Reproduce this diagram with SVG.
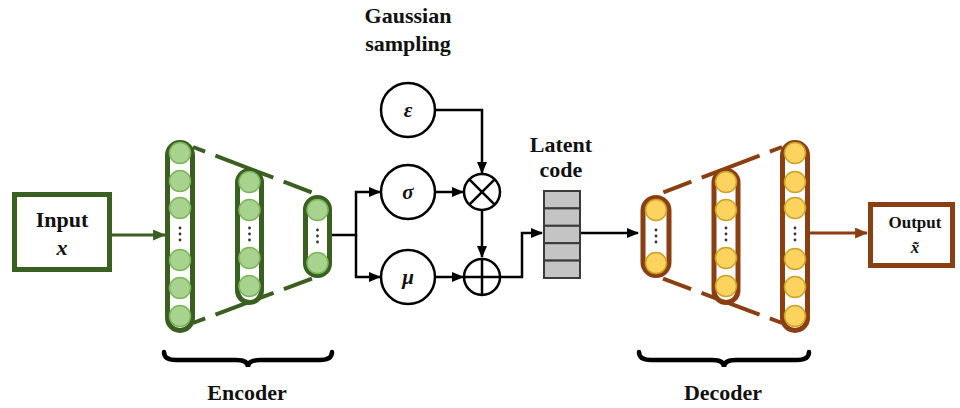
<svg xmlns="http://www.w3.org/2000/svg" width="960" height="408" viewBox="0 0 960 408">
<defs>
<marker id="ab" viewBox="0 0 12 10" refX="11" refY="5" markerWidth="12" markerHeight="10" markerUnits="userSpaceOnUse" orient="auto"><path d="M0,0 L12,5 L0,10 Z" fill="#000"/></marker>
<marker id="ag" viewBox="0 0 12 10" refX="11" refY="5" markerWidth="13" markerHeight="11" markerUnits="userSpaceOnUse" orient="auto"><path d="M0,0 L12,5 L0,10 Z" fill="#3b5e21"/></marker>
<marker id="ar" viewBox="0 0 12 10" refX="11" refY="5" markerWidth="13" markerHeight="11" markerUnits="userSpaceOnUse" orient="auto"><path d="M0,0 L12,5 L0,10 Z" fill="#8a3f12"/></marker>
</defs>
<style>
.t{font-family:"Liberation Serif",serif;font-weight:bold;fill:#111;text-anchor:middle}
.gp{fill:#fff;stroke:#3b5e21;stroke-width:5}
.gc{fill:#a8d38e;stroke:#7cb45c;stroke-width:1.5}
.bp{fill:#fff;stroke:#8a3f12;stroke-width:5}
.bc{fill:#fcd35e;stroke:#c9a227;stroke-width:1.5}
.gd{stroke:#3b5e21;stroke-width:4;fill:none}
.bd{stroke:#8a3f12;stroke-width:4;fill:none}
.k{stroke:#000;stroke-width:2.5;fill:none}
.dot{fill:#333}
.op{fill:#fff;stroke:#000;stroke-width:2.5}
.cell{fill:#c4c4c4;stroke:#3a3a3a;stroke-width:2}
.br{stroke:#000;stroke-width:4.5;fill:none;stroke-linecap:round}
</style>

<g id="connectors">
<line x1="112" y1="235" x2="165" y2="235" stroke="#3b5e21" stroke-width="3" marker-end="url(#ag)"/>
<path class="k" d="M332,235 H356 V192 H380" marker-end="url(#ab)"/>
<path class="k" d="M356,235 V277 H380" marker-end="url(#ab)"/>
<path class="k" d="M436,110 H482 V173" marker-end="url(#ab)"/>
<path class="k" d="M436,192 H463" marker-end="url(#ab)"/>
<path class="k" d="M482,210 V257" marker-end="url(#ab)"/>
<path class="k" d="M436,277 H463" marker-end="url(#ab)"/>
<path class="k" d="M500,277 H522 V233 H542" marker-end="url(#ab)"/>
<path class="k" d="M581,233 H638" marker-end="url(#ab)"/>
<line x1="810" y1="233" x2="867" y2="233" stroke="#8a3f12" stroke-width="3" marker-end="url(#ar)"/>
</g>

<g id="encoder-dashes">
<line class="gd" x1="193" y1="147" x2="316" y2="194" stroke-dasharray="13 11 62 11 30 100"/>
<line class="gd" x1="193" y1="323" x2="316" y2="277" stroke-dasharray="13 11 62 11 30 100"/>
</g>
<g id="decoder-dashes">
<line class="bd" x1="782" y1="147" x2="659" y2="194" stroke-dasharray="13 11 62 11 30 100"/>
<line class="bd" x1="782" y1="323" x2="659" y2="277" stroke-dasharray="13 11 62 11 30 100"/>
</g>

<g id="input">
<rect x="14.5" y="194.5" width="95" height="75" fill="#fff" stroke="#3b5e21" stroke-width="5"/>
<text class="t" x="62" y="227" font-size="22">Input</text>
<text class="t" x="62" y="255" font-size="22" font-style="italic">x</text>
</g>

<g id="enc1">
<rect class="gp" x="167.5" y="142.5" width="25" height="188" rx="12.5"/>
<circle class="gc" cx="180" cy="153" r="10.5"/><circle class="gc" cx="180" cy="181" r="10.5"/><circle class="gc" cx="180" cy="208" r="10.5"/>
<circle class="gc" cx="180" cy="260" r="10.5"/><circle class="gc" cx="180" cy="288" r="10.5"/><circle class="gc" cx="180" cy="316" r="10.5"/>
<circle class="dot" cx="180" cy="228" r="1.4"/><circle class="dot" cx="180" cy="234" r="1.4"/><circle class="dot" cx="180" cy="240" r="1.4"/>
</g>
<g id="enc2">
<rect class="gp" x="237.5" y="170.5" width="24" height="132" rx="12"/>
<circle class="gc" cx="249.5" cy="182" r="10.5"/><circle class="gc" cx="249.5" cy="210" r="10.5"/>
<circle class="gc" cx="249.5" cy="258" r="10.5"/><circle class="gc" cx="249.5" cy="286" r="10.5"/>
<circle class="dot" cx="249.5" cy="228" r="1.4"/><circle class="dot" cx="249.5" cy="234" r="1.4"/><circle class="dot" cx="249.5" cy="240" r="1.4"/>
</g>
<g id="enc3">
<rect class="gp" x="305.5" y="197.5" width="24" height="78" rx="12"/>
<circle class="gc" cx="317.5" cy="210" r="10.5"/><circle class="gc" cx="317.5" cy="263" r="10.5"/>
<circle class="dot" cx="317.5" cy="230" r="1.4"/><circle class="dot" cx="317.5" cy="236" r="1.4"/><circle class="dot" cx="317.5" cy="242" r="1.4"/>
</g>

<g id="gaussian-label">
<text class="t" x="408" y="23" font-size="22">Gaussian</text>
<text class="t" x="408" y="51" font-size="22">sampling</text>
</g>
<g id="epsilon">
<circle class="op" cx="408" cy="110" r="27"/>
<text class="t" x="408" y="117" font-size="21" font-style="italic">ε</text>
</g>
<g id="sigma">
<circle class="op" cx="408" cy="192" r="27"/>
<text class="t" x="408" y="199" font-size="21" font-style="italic">σ</text>
</g>
<g id="mu">
<circle class="op" cx="408" cy="277" r="27"/>
<text class="t" x="408" y="284" font-size="21" font-style="italic">μ</text>
</g>
<g id="multiply">
<circle class="op" cx="482" cy="192" r="18"/>
<path class="k" d="M469.3,179.3 L494.7,204.7 M494.7,179.3 L469.3,204.7"/>
</g>
<g id="add">
<circle class="op" cx="482" cy="277" r="18"/>
<path class="k" d="M464,277 H500 M482,259 V295"/>
</g>

<g id="latent">
<text class="t" x="561" y="152" font-size="22">Latent</text>
<text class="t" x="561" y="177" font-size="22">code</text>
<rect class="cell" x="544" y="191" width="36" height="17.4"/>
<rect class="cell" x="544" y="208.4" width="36" height="17.4"/>
<rect class="cell" x="544" y="225.8" width="36" height="17.4"/>
<rect class="cell" x="544" y="243.2" width="36" height="17.4"/>
<rect class="cell" x="544" y="260.6" width="36" height="17.4"/>
</g>

<g id="dec1">
<rect class="bp" x="643" y="197.5" width="26" height="78" rx="13"/>
<circle class="bc" cx="656" cy="210" r="10.5"/><circle class="bc" cx="656" cy="263" r="10.5"/>
<circle class="dot" cx="656" cy="230" r="1.4"/><circle class="dot" cx="656" cy="236" r="1.4"/><circle class="dot" cx="656" cy="242" r="1.4"/>
</g>
<g id="dec2">
<rect class="bp" x="714" y="170.5" width="24" height="132" rx="12"/>
<circle class="bc" cx="726" cy="182" r="10.5"/><circle class="bc" cx="726" cy="210" r="10.5"/>
<circle class="bc" cx="726" cy="258" r="10.5"/><circle class="bc" cx="726" cy="286" r="10.5"/>
<circle class="dot" cx="726" cy="228" r="1.4"/><circle class="dot" cx="726" cy="234" r="1.4"/><circle class="dot" cx="726" cy="240" r="1.4"/>
</g>
<g id="dec3">
<rect class="bp" x="782.5" y="142.5" width="25" height="188" rx="12.5"/>
<circle class="bc" cx="795" cy="153" r="10.5"/><circle class="bc" cx="795" cy="182" r="10.5"/><circle class="bc" cx="795" cy="208" r="10.5"/>
<circle class="bc" cx="795" cy="259" r="10.5"/><circle class="bc" cx="795" cy="287" r="10.5"/><circle class="bc" cx="795" cy="316" r="10.5"/>
<circle class="dot" cx="795" cy="228" r="1.4"/><circle class="dot" cx="795" cy="234" r="1.4"/><circle class="dot" cx="795" cy="240" r="1.4"/>
</g>

<g id="output">
<rect x="870.5" y="204.5" width="82" height="61" fill="#fff" stroke="#8a3f12" stroke-width="5"/>
<text class="t" x="915" y="228" font-size="17">Output</text>
<text class="t" x="915" y="253" font-size="17" font-style="italic">x̃</text>
</g>

<g id="encoder-brace">
<path class="br" d="M164,352 Q164,360 176,360 L236,360 Q248,360 248,367 Q248,360 260,360 L320,360 Q332,360 332,352"/>
<text class="t" x="247" y="400" font-size="22">Encoder</text>
</g>
<g id="decoder-brace">
<path class="br" d="M639,352 Q639,360 651,360 L712,360 Q724,360 724,367 Q724,360 736,360 L797,360 Q809,360 809,352"/>
<text class="t" x="723" y="400" font-size="22">Decoder</text>
</g>
</svg>
